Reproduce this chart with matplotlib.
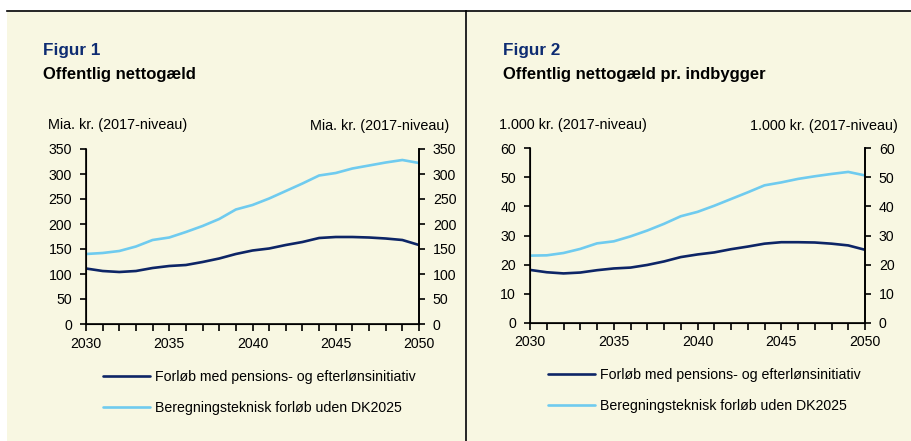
import numpy as np
import matplotlib
matplotlib.use("Agg")
import matplotlib.pyplot as plt
from matplotlib.patches import Rectangle
from matplotlib.lines import Line2D

plt.rcParams['font.family'] = ['Liberation Sans', 'DejaVu Sans']

# Data
years = list(range(2030, 2051))

gaeld_med = [111, 106, 104, 106, 112, 116, 118, 124, 131, 140, 147, 151, 158, 164, 172, 174, 174, 173, 171, 168, 158]
gaeld_uden = [140, 142, 146, 155, 168, 173, 184, 196, 210, 229, 238, 251, 266, 281, 297, 302, 311, 317, 323, 328, 322]

pr_indb_med = [18.2, 17.4, 17.0, 17.3, 18.1, 18.7, 19.0, 19.9, 21.1, 22.6, 23.5, 24.2, 25.3, 26.2, 27.2, 27.7, 27.7, 27.6, 27.2, 26.6, 25.1]
pr_indb_uden = [23.1, 23.2, 24.0, 25.4, 27.3, 28.0, 29.7, 31.7, 34.0, 36.6, 38.1, 40.2, 42.5, 44.8, 47.2, 48.2, 49.4, 50.3, 51.1, 51.8, 50.6]

serie_navne = ["Forløb med pensions- og efterlønsinitiativ",
               "Beregningsteknisk forløb uden DK2025"]
x_labels = ["2030", "2035", "2040", "2045", "2050"]

# Farver
navy = "#0D2566"
lysblaa = "#6FCBEF"
creme = "#F8F7E2"
titel_blaa = "#0E2C72"

W, H = 912, 441
fig = plt.figure(figsize=(W / 100, H / 100), dpi=100)
fig.patch.set_facecolor("white")


def fx(px):
    return px / W


def fy(py):
    return 1 - py / H


# baggrund og rammer
fig.patches.append(Rectangle((fx(7), 0), fx(465) - fx(7), fy(12), transform=fig.transFigure,
                             facecolor=creme, edgecolor="none", zorder=-10))
fig.patches.append(Rectangle((fx(467), 0), 1 - fx(467), fy(12), transform=fig.transFigure,
                             facecolor=creme, edgecolor="none", zorder=-10))
fig.lines.append(Line2D([fx(7), 1], [fy(11), fy(11)], transform=fig.transFigure, color="black", lw=1.2, zorder=-5))
fig.lines.append(Line2D([fx(466), fx(466)], [0, fy(11)], transform=fig.transFigure, color="black", lw=1.2, zorder=-5))


def lav_panel(x0, x1, ytop, ybund, med, uden, ymax, ystep, enhed,
              fig_nr, titel, tx, enh_venstre_x, enh_hoejre_x, leg_x, leg_y):
    ax = fig.add_axes([fx(x0), fy(ybund), fx(x1) - fx(x0), fy(ytop) - fy(ybund)])
    ax.set_facecolor("none")
    ax.plot(years, med, color=navy, lw=1.9, label=serie_navne[0], solid_capstyle="round")
    ax.plot(years, uden, color=lysblaa, lw=1.9, label=serie_navne[1], solid_capstyle="round")
    ax.set_xlim(2030, 2050)
    ax.set_ylim(0, ymax)
    ax.set_xticks(years)
    ax.set_xticklabels([str(y) if str(y) in x_labels else "" for y in years])
    yt = np.arange(0, ymax + ystep, ystep)
    ax.set_yticks(yt)
    ax.spines["top"].set_visible(False)
    for s in ["left", "bottom", "right"]:
        ax.spines[s].set_linewidth(1.2)
    ax.tick_params(axis="x", direction="out", length=5, width=1.2, pad=4, labelsize=10.2)
    ax.tick_params(axis="y", direction="out", length=4, width=1.2, pad=6, labelsize=10.2)

    ax2 = ax.twinx()
    ax2.set_ylim(0, ymax)
    ax2.set_yticks(yt)
    ax2.spines["top"].set_visible(False)
    ax2.spines["right"].set_linewidth(1.2)
    ax2.tick_params(axis="y", direction="out", length=4, width=1.2, pad=6, labelsize=10.2)

    fig.text(fx(tx), fy(50), fig_nr, color=titel_blaa, fontsize=12.3, fontweight="bold", va="center")
    fig.text(fx(tx), fy(75), titel, color="black", fontsize=12, fontweight="bold", va="center")
    fig.text(fx(enh_venstre_x), fy(125), enhed, fontsize=10.4, va="center", ha="left")
    fig.text(fx(enh_hoejre_x), fy(126), enhed, fontsize=10.4, va="center", ha="right")

    ax.legend(loc="upper left", bbox_to_anchor=(fx(leg_x), fy(leg_y)), bbox_transform=fig.transFigure,
              frameon=False, fontsize=10.2, handlelength=3.3, handletextpad=0.4,
              labelspacing=1.2, borderpad=0, borderaxespad=0)
    return ax


lav_panel(86, 419, 149, 324, gaeld_med, gaeld_uden, 350, 50, "Mia. kr. (2017-niveau)",
          "Figur 1", "Offentlig nettogæld", 43, 48, 449, 103, 370)
lav_panel(530, 865, 148, 323, pr_indb_med, pr_indb_uden, 60, 10, "1.000 kr. (2017-niveau)",
          "Figur 2", "Offentlig nettogæld pr. indbygger", 503, 499, 898, 548, 368)

fig.savefig("out.png", dpi=100, facecolor=fig.get_facecolor())
